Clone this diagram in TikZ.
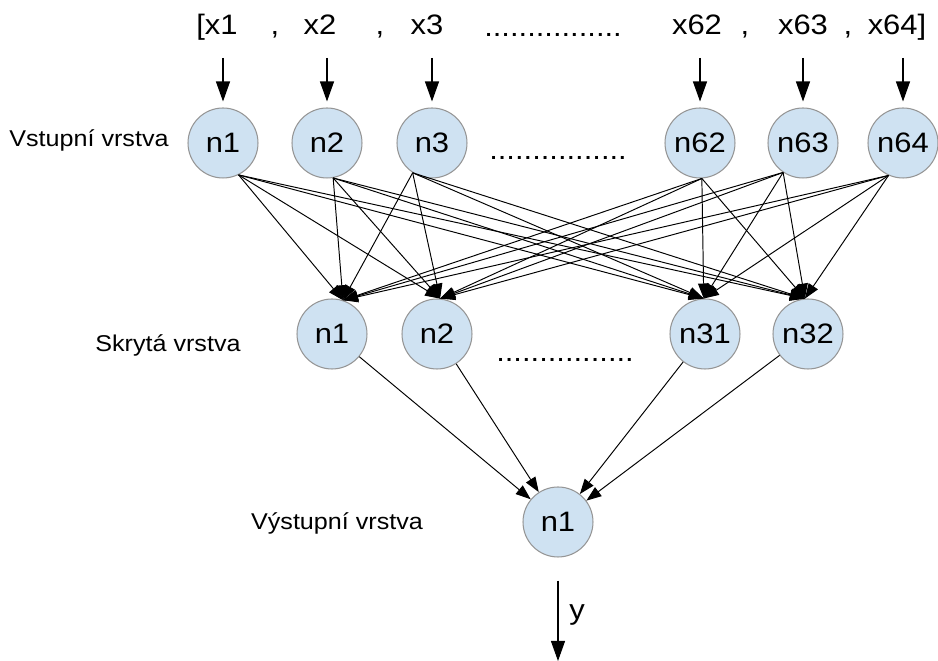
\documentclass[tikz,border=0pt]{standalone}
\usepackage{fontspec}
\setmainfont{Liberation Sans}[FakeStretch=1.1]
\usetikzlibrary{arrows.meta}

\definecolor{neuronfill}{RGB}{207,226,242}
\definecolor{neurondraw}{RGB}{150,150,150}

\begin{document}
\begin{tikzpicture}[
  x=0.02cm, y=-0.02cm,
  >={Triangle[length=0.3cm, width=0.22cm]},
  every node/.style={inner sep=0pt},
  neuron/.style = {circle, draw=neurondraw, fill=neuronfill, line width=0.6pt, minimum size=1.4cm, font=\fontsize{16}{18}\selectfont},
  val/.style    = {font=\fontsize{16}{18}\selectfont, anchor=base},
  layer/.style  = {font=\fontsize{13}{15}\selectfont},
  edge/.style   = {->, line width=0.55pt},
  feed/.style   = {-{Triangle[length=0.4cm, width=0.28cm]}, line width=0.6pt},
]
  \useasboundingbox (0,0) rectangle (938,661);

  % input vector
  \node[val] (v1)  at (217,35) {[x1};
  \node[val] (c1)  at (275,35) {,};
  \node[val] (v2)  at (320,35) {x2};
  \node[val] (c2)  at (380,35) {,};
  \node[val] (v3)  at (427,35) {x3};
  \node[val] (vd)  at (553,37) {................};
  \node[val] (v62) at (697,35) {x62};
  \node[val] (c3)  at (745,35) {,};
  \node[val] (v63) at (803,35) {x63};
  \node[val] (c4)  at (848,35) {,};
  \node[val] (v64) at (897,35) {x64]};

  % layers
  \node[layer] (lin)  at (89,140)  {Vstupní vrstva};
  \node[layer] (lhid) at (168,345) {Skrytá vrstva};
  \node[layer] (lout) at (337,523) {Výstupní vrstva};

  \foreach \n/\x in {1/223,2/327,3/432,62/700,63/803,64/903}{
    \node[neuron] (i\n) at (\x,143) {n\n};
    \coordinate (in\n) at (\x,58);
    \draw[feed, shorten >=0.12cm] (in\n) -- (i\n);
  }
  \node[val] (id) at (558,160) {................};

  \foreach \n/\x in {1/332,2/437,31/705,32/808}
    \node[neuron] (h\n) at (\x,334) {n\n};
  \node[val] (hd) at (565,362) {................};

  \node[neuron] (o1) at (558,522) {n1};

  % full connections
  \foreach \i/\a in {1/-64,2/-80,3/-123,62/-87,63/-124,64/-114}
    \foreach \h/\b in {1/72,2/85,31/92,32/95}
      \draw[edge] (i\i.\a) -- (h\h.\b);
  \foreach \h in {1,2,31,32}
    \draw[edge] (h\h) -- (o1);

  \coordinate (yout) at (558,661);
  \draw[feed, shorten <=0.46cm] (o1) -- (yout);
  \node[val, anchor=center] (ylab) at (577,615) {y};
\end{tikzpicture}
\end{document}
